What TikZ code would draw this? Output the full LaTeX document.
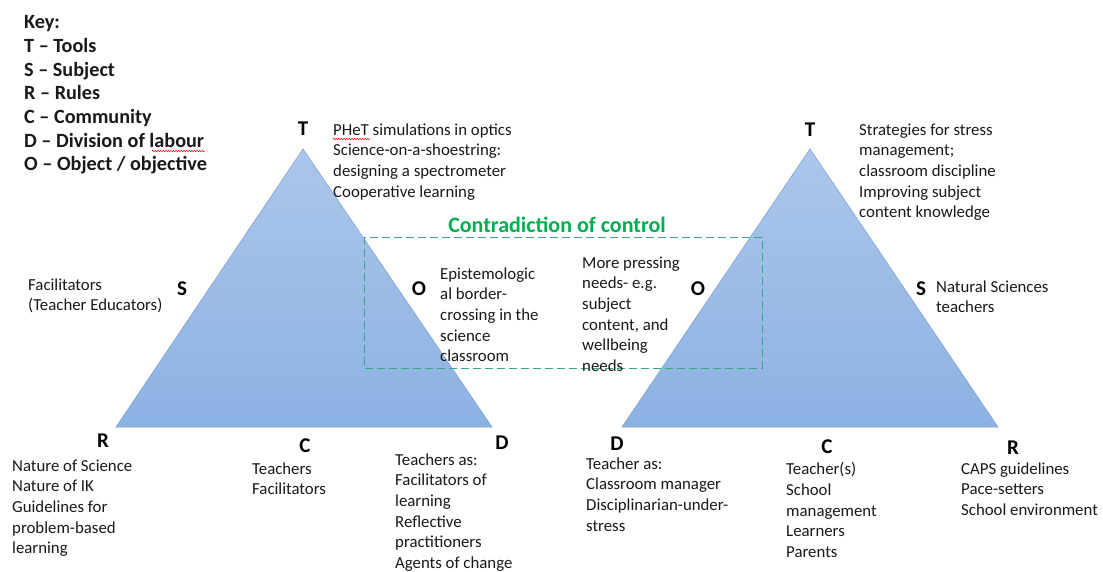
\documentclass[tikz,border=0pt]{standalone}
\usepackage{fontspec}
\setmainfont{Carlito}
\usetikzlibrary{decorations.pathmorphing}
\definecolor{triTop}{RGB}{172,198,235}
\definecolor{triBot}{RGB}{140,178,226}
\definecolor{triEdge}{RGB}{128,163,212}
\definecolor{boxTeal}{RGB}{56,165,135}
\definecolor{titleGreen}{RGB}{0,176,80}
\tikzset{
  vlabel/.style={font=\fontsize{21}{25}\selectfont\bfseries,inner sep=0pt},
  txt/.style={font=\fontsize{16.8}{20.6}\selectfont,align=left,
    anchor=north west,inner sep=0pt,text=black!90},
  squiggle/.style={red,line width=0.5pt,decorate,
    decoration={snake,amplitude=0.7pt,segment length=2.6pt}}
}
\begin{document}
\begin{tikzpicture}[x=1pt,y=-1pt]
\useasboundingbox[fill=white] (0,0) rectangle (1103,572);
% left triangle
\coordinate (lApex) at (303,149);
\coordinate (lBL) at (116,427);
\coordinate (lBR) at (492,427);
% right triangle
\coordinate (rApex) at (810,149);
\coordinate (rBL) at (622,427);
\coordinate (rBR) at (998,427);
\draw[top color=triTop,bottom color=triBot,draw=triEdge,line width=0.6pt]
  (lApex) -- (lBR) -- (lBL) -- cycle;
\draw[top color=triTop,bottom color=triBot,draw=triEdge,line width=0.6pt]
  (rApex) -- (rBR) -- (rBL) -- cycle;
% contradiction box
\draw[boxTeal,dash pattern=on 8pt off 4pt,line width=0.9pt]
  (364,237) rectangle (762,368);
\node[font=\fontsize{22}{26}\selectfont\bfseries,text=titleGreen,inner sep=0pt]
  (title) at (557,225) {Contradiction of control};
% key
\node[font=\fontsize{20.2}{23.7}\selectfont\bfseries,align=left,
  anchor=north west,inner sep=0pt,text=black!90] (key) at (24,15.4)
  {Key:\\T -- Tools\\S -- Subject\\R -- Rules\\C -- Community\\
   D -- Division of labour\\O -- Object / objective};
% vertex letters
\foreach \n/\x/\y in {T/303/129,S/182/289,O/419/289,R/103/441,C/305/446,D/502/443}
  \node[vlabel] (l\n) at (\x,\y) {\n};
\foreach \n/\x/\y in {T/810/130,O/698/289,S/921/289,D/617/444,C/827/447,R/1013/448}
  \node[vlabel] (r\n) at (\x,\y) {\n};
% left texts
\node[txt] (lTtxt) at (333,123.5) {PHeT simulations in optics\\
  Science-on-a-shoestring:\\designing a spectrometer\\Cooperative learning};
\node[txt] (lStxt) at (28,278.5) {Facilitators\\(Teacher Educators)};
\node[txt] (lOtxt) at (440,267.5) {Epistemologic\\al border-\\crossing in the\\
  science\\classroom};
\node[txt] (lRtxt) at (12,459.5) {Nature of Science\\Nature of IK\\
  Guidelines for\\problem-based\\learning};
\node[txt] (lCtxt) at (252,462.5) {Teachers\\Facilitators};
\node[txt] (lDtxt) at (395,453.5) {Teachers as:\\Facilitators of\\learning\\
  Reflective\\practitioners\\Agents of change};
% right texts
\node[txt] (rTtxt) at (859,123.5) {Strategies for stress\\management;\\
  classroom discipline\\Improving subject\\content knowledge};
\node[txt] (rOtxt) at (582,256.5) {More pressing\\needs- e.g.\\subject\\
  content, and\\wellbeing\\needs};
\node[txt] (rStxt) at (936,280.5) {Natural Sciences\\teachers};
\node[txt] (rDtxt) at (586,457.5) {Teacher as:\\Classroom manager\\
  Disciplinarian-under-\\stress};
\node[txt] (rCtxt) at (786,462.5) {Teacher(s)\\School\\management\\
  Learners\\Parents};
\node[txt] (rRtxt) at (961,462.5) {CAPS guidelines\\Pace-setters\\
  School environment};
% spelling marks
\draw[squiggle] (333,139) -- (370,139);
\draw[squiggle] (152,151) -- (205,151);
\end{tikzpicture}
\end{document}
